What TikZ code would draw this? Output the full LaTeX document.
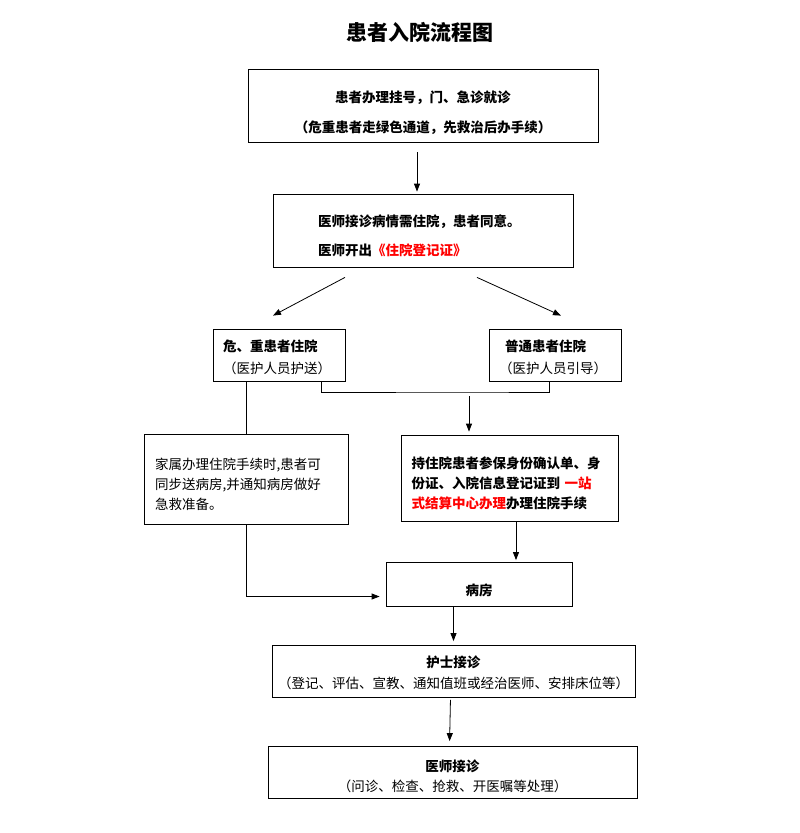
\documentclass[tikz,border=0pt]{standalone}
\usepackage{fontspec}
\setmainfont{Noto Sans CJK SC}
\usepackage{xcolor}
\usepackage{tikz}
\usetikzlibrary{positioning}
\usetikzlibrary{arrows.meta}

% empty strut, pushes a box text down
\newcommand{\padtop}[1]{\rule{0pt}{#1}}

\begin{document}
\begin{tikzpicture}[x=1pt,y=-1pt]
        \tikzset{arrow/.style = {-{Triangle[length=8pt,width=6pt]}, line width=0.8pt}}
        \tikzset{flowbox/.style = {draw, line width=0.8pt, inner sep=0pt, font=\fontsize{13.5pt}{23pt}\selectfont}}
        \useasboundingbox (0,0) rectangle (800,833);

        % title
        \node[font=\fontsize{21pt}{21pt}\selectfont\bfseries] (title) at (420,32) {患者入院流程图};

        % registration
        \node[flowbox, minimum width=350pt, minimum height=73pt, align=center] (reg) at (423,105.5) {\padtop{26pt}\textbf{患者办理挂号，门、急诊就诊}\\[7pt]\textbf{（危重患者走绿色通道，先救治后办手续）}};

        % doctor decides
        \node[flowbox, minimum width=300pt, minimum height=73pt, text width=210pt, align=left] (doc) at (423,230.5) {\padtop{23pt}\textbf{医师接诊病情需住院，患者同意。}\\[6pt]\textbf{医师开出{\color{red}《住院登记证》}}};

        % two kinds of patients
        \node[flowbox, minimum width=132pt, minimum height=52pt, text width=112pt, align=left] (crit) at (279,355) {\padtop{16pt}\textbf{危、重患者住院}\\[-1pt]（医护人员护送）};
        \node[flowbox, minimum width=132pt, minimum height=52pt, text width=112pt, align=left] (norm) at (555,355) {\padtop{16pt}\hspace{6pt}\textbf{普通患者住院}\\[-1pt]（医护人员引导）};

        % family and procedures
        \node[flowbox, minimum width=204pt, minimum height=90pt, text width=182pt, align=left] (family) at (246,479) {\padtop{22pt}家属办理住院手续时,患者可\\[-3pt]同步送病房,并通知病房做好\\[-3pt]急救准备。};
        \node[flowbox, minimum width=217pt, minimum height=86pt, text width=196pt, align=left] (admit) at (509.5,478) {\padtop{23pt}\textbf{持住院患者参保身份确认单、身}\\[-3pt]\textbf{份证、入院信息登记证到 {\color{red}一站}}\\[-3pt]\textbf{{\color{red}式结算中心办理}办理住院手续}};

        % ward and after
        \node[flowbox, minimum width=186pt, minimum height=44pt] (ward) at (479,584.5) {\padtop{23pt}\textbf{病房}};
        \node[flowbox, minimum width=363pt, minimum height=52pt, align=center] (nurse) at (453.5,671.5) {\padtop{14pt}\textbf{护士接诊}\\[-2pt]（登记、评估、宣教、通知值班或经治医师、安排床位等）};
        \node[flowbox, minimum width=369pt, minimum height=52pt, align=center] (md) at (452.5,772.5) {\padtop{20pt}\textbf{医师接诊}\\[-3pt]（问诊、检查、抢救、开医嘱等处理）};

        % arrows down
        \draw[arrow, shorten <=10pt, shorten >=2pt] ([xshift=-6pt]reg.south) -- ([xshift=-6pt]doc.north);
        \draw[arrow] ([xshift=-78pt,yshift=-10pt]doc.south) -- ([xshift=-6pt,yshift=13pt]crit.north);
        \draw[arrow] ([xshift=54pt,yshift=-10pt]doc.south) -- ([xshift=6pt,yshift=13pt]norm.north);

        % both kinds join
        \coordinate (join) at (469,392);
        \draw[line width=0.8pt] ([xshift=-24pt]crit.south east) |- (join) -| ([xshift=-6pt]norm.south);
        \draw[arrow, shorten <=4pt, shorten >=3pt] (join) -- (join |- admit.north);

        % critical path
        \draw[line width=0.8pt] (family.north |- crit.south) -- (family.north);
        \draw[arrow, shorten >=6pt] (family.south) |- ([yshift=-12pt]ward.west);
        \draw[arrow, shorten >=2pt] ([xshift=6.5pt]admit.south) -- ([xshift=6.5pt]admit.south |- ward.north);

        % ward to doctor
        \draw[arrow, shorten >=4pt] (nurse.north |- ward.south) -- (nurse.north);
        \draw[arrow, shorten <=2pt, shorten >=5pt] ([xshift=-3pt]nurse.south) -- ([xshift=-3pt]md.north);
        
\end{tikzpicture}
\end{document}
